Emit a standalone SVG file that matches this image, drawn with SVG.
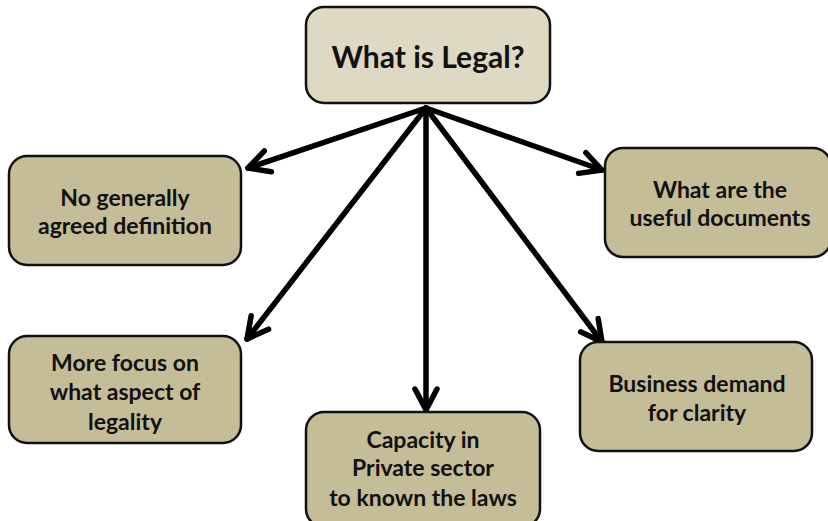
<svg xmlns="http://www.w3.org/2000/svg" width="828" height="521" viewBox="0 0 828 521">
<style>
.box{fill:#c4bd97;stroke:#111;stroke-width:2.5}
.top{fill:#ddd9c3;stroke:#111;stroke-width:2.5}
.t{font-family:Lato,"Liberation Sans",sans-serif;font-weight:bold;font-size:23px;fill:#111;text-anchor:middle}
.title{font-size:30px}
.c{stroke:#000;stroke-width:5.5;fill:none;stroke-linecap:round;marker-end:url(#ah)}
</style>
<defs>
<marker id="ah" markerUnits="userSpaceOnUse" markerWidth="30" markerHeight="30" viewBox="0 0 30 30" refX="24" refY="15" orient="auto">
<path d="M3,4 L24,15 L3,26" fill="none" stroke="#000" stroke-width="5.5" stroke-linecap="round" stroke-linejoin="round"/>
</marker>
</defs>
<g id="connectors">
<line class="c" x1="426" y1="108" x2="248" y2="168"/>
<line class="c" x1="426" y1="108" x2="602" y2="170"/>
<line class="c" x1="426" y1="108" x2="247" y2="339"/>
<line class="c" x1="426" y1="108" x2="426" y2="410"/>
<line class="c" x1="426" y1="108" x2="602" y2="342"/>
</g>
<g id="n-top">
<rect class="top" x="306" y="7" width="244" height="96" rx="18"/>
<text class="t title" x="428" y="68">What is Legal?</text>
</g>
<g id="n-left1">
<rect class="box" x="9" y="156" width="232" height="109" rx="18"/>
<text class="t" x="125" y="206">No generally</text>
<text class="t" x="125" y="234">agreed definition</text>
</g>
<g id="n-right1">
<rect class="box" x="605" y="148" width="226" height="109" rx="18"/>
<text class="t" x="720" y="198">What are the</text>
<text class="t" x="720" y="226">useful documents</text>
</g>
<g id="n-left2">
<rect class="box" x="9" y="336" width="232" height="107" rx="18"/>
<text class="t" x="125" y="371">More focus on</text>
<text class="t" x="125" y="400">what aspect of</text>
<text class="t" x="125" y="430">legality</text>
</g>
<g id="n-bottom">
<rect class="box" x="306" y="412" width="234" height="115" rx="18"/>
<text class="t" x="423" y="448">Capacity in</text>
<text class="t" x="423" y="476">Private sector</text>
<text class="t" x="423" y="506">to known the laws</text>
</g>
<g id="n-right2">
<rect class="box" x="580" y="342" width="232" height="109" rx="18"/>
<text class="t" x="697" y="392">Business demand</text>
<text class="t" x="697" y="421">for clarity</text>
</g>
</svg>
